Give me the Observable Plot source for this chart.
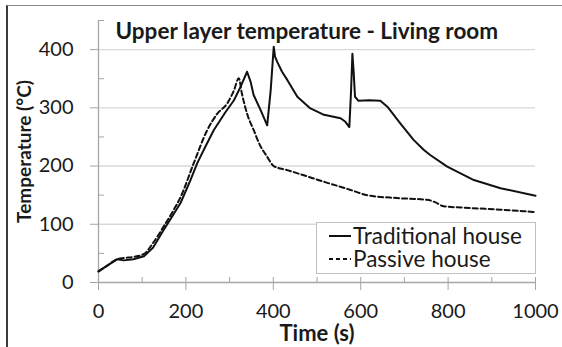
<!DOCTYPE html>
<html>
<head>
<meta charset="utf-8">
<script src="https://cdn.jsdelivr.net/npm/d3@7"></script>
<script src="https://cdn.jsdelivr.net/npm/@observablehq/plot@0.6"></script>
<style>
  html, body { margin: 0; padding: 0; background: #fff; }
  #wrap { position: relative; width: 562px; height: 347px; overflow: hidden; font-family: Lato, sans-serif; }
  #frame { position: absolute; left: 6px; top: 5px; width: 560px; height: 350px; border-left: 2px solid #3a3a3a; border-top: 1.5px solid #8c8c8c; box-sizing: border-box; }
  #chart { position: absolute; left: 0; top: 0; }
  #legend { position: absolute; left: 316px; top: 222px; width: 220px; height: 52px; box-sizing: border-box; border: 1.5px solid #c0c0c0; background: #fff; font-size: 22.5px; color: #1a1a1a; line-height: 23px; padding-top: 1px; }
  #legend .row { display: flex; align-items: center; padding-left: 12px; white-space: nowrap; height: 23px; }
  #legend svg { margin-right: 2px; }
</style>
</head>
<body>
<div id="wrap">
  <div id="frame"></div>
  <div id="chart"></div>
  <div id="legend"></div>
</div>
<script>
// ---- data ----
const title = "Upper layer temperature - Living room";
const xLabel = "Time (s)";
const yLabel = "Temperature (°C)";
const seriesNames = ["Traditional house", "Passive house"];

const tradTime = [0, 20, 43, 58, 80, 104, 125, 149, 170, 188, 210, 226, 245, 264, 290, 310, 325, 340, 348, 355, 371, 386, 394, 401, 404, 409, 420, 432, 455, 485, 516, 554, 565, 574, 578, 581, 584, 587, 595, 620, 645, 661, 691, 721, 744, 759, 798, 859, 920, 1000];
const tradTemp = [19, 29, 40, 38, 40, 45, 60, 90, 115, 137, 175, 205, 234, 262, 292, 313, 336, 362, 345, 322, 296, 270, 330, 405, 388, 379, 362, 348, 319, 299, 288, 282, 276, 267, 330, 393, 360, 319, 312, 313, 312, 302, 273, 245, 228, 219, 199, 176, 162, 149];

const passTime = [0, 20, 43, 58, 80, 104, 125, 149, 170, 188, 218, 249, 272, 295, 310, 321, 328, 340, 355, 370, 386, 401, 432, 462, 516, 577, 615, 683, 752, 770, 790, 850, 920, 1000];
const passTemp = [19, 29, 40, 42, 44, 49, 68, 96, 122, 147, 205, 262, 290, 308, 330, 351, 325, 290, 262, 235, 216, 200, 193, 186, 173, 159, 150, 145, 142, 138, 131, 128, 125, 121];

const xTicks = [0, 200, 400, 600, 800, 1000];
const xMinorTicks = [0, 100, 200, 300, 400, 500, 600, 700, 800, 900, 1000];
const yTicks = [0, 100, 200, 300, 400];
const yMinorTicks = [50, 150, 250, 350, 450];
const yGrid = [100, 200, 300, 400];

// ---- build ----
const trad = tradTime.map((t, i) => ({t, v: tradTemp[i]}));
const pass = passTime.map((t, i) => ({t, v: passTemp[i]}));

const axisGray = "#a6a6a6";
const textColor = "#1a1a1a";
const fmt = d => String(d);

const chart = Plot.plot({
  width: 562,
  height: 347,
  marginLeft: 98,
  marginRight: 27,
  marginTop: 20,
  marginBottom: 65,
  style: {fontFamily: "Lato, sans-serif", background: "transparent", overflow: "visible"},
  x: {domain: [0, 1000]},
  y: {domain: [0, 450]},
  marks: [
    Plot.gridY(yGrid, {stroke: "#d9d9d9", strokeOpacity: 1, strokeWidth: 1.4}),
    Plot.ruleX([0], {stroke: axisGray, strokeWidth: 1.3}),
    Plot.ruleY([0], {stroke: axisGray, strokeWidth: 1.3}),
    Plot.axisY(yTicks, {anchor: "left", tickSize: 8, stroke: axisGray, tickFormat: () => "", label: null}),
    Plot.text(yTicks, {y: d => d, frameAnchor: "left", text: fmt, textAnchor: "end", lineAnchor: "middle", dx: -25, fontSize: 20, fill: textColor}),
    Plot.axisY(yMinorTicks, {anchor: "left", tickSize: -6, tickPadding: 0, stroke: axisGray, tickFormat: () => "", label: null}),
    Plot.axisX(xTicks, {anchor: "bottom", tickSize: 8, tickPadding: 13, stroke: axisGray, fill: textColor, fontSize: 20, tickFormat: fmt, label: null}),
    Plot.axisX(xMinorTicks, {anchor: "bottom", tickSize: -5, tickPadding: 0, stroke: axisGray, tickFormat: () => "", label: null}),
    Plot.line(pass, {x: "t", y: "v", stroke: "#111", strokeWidth: 2, strokeDasharray: "5,3", curve: "monotone-x"}),
    Plot.line(trad, {x: "t", y: "v", stroke: "#111", strokeWidth: 2, curve: "linear"}),
    Plot.text([title], {frameAnchor: "top-left", text: d => d, dx: 17, dy: 3, lineAnchor: "top", textAnchor: "start", fontWeight: "bold", fontSize: 22.5, fill: textColor}),
    Plot.text([xLabel], {frameAnchor: "bottom", text: d => d, dy: 51, textAnchor: "middle", lineAnchor: "middle", fontWeight: "bold", fontSize: 22, fill: textColor}),
    Plot.text([yLabel], {frameAnchor: "left", text: d => d, dx: -74, rotate: -90, textAnchor: "middle", lineAnchor: "middle", fontWeight: "bold", fontSize: 19, fill: textColor})
  ]
});
document.getElementById("chart").appendChild(chart);

// legend
const legend = document.getElementById("legend");
const dashes = [null, "4,3"];
seriesNames.forEach((name, i) => {
  const row = document.createElement("div");
  row.className = "row";
  const sw = d3.create("svg").attr("width", 22).attr("height", 12);
  sw.append("line").attr("x1", 0).attr("x2", 22).attr("y1", 6).attr("y2", 6)
    .attr("stroke", "#111").attr("stroke-width", 2).attr("stroke-dasharray", dashes[i]);
  row.appendChild(sw.node());
  const span = document.createElement("span");
  span.textContent = name;
  row.appendChild(span);
  legend.appendChild(row);
});
</script>
</body>
</html>
